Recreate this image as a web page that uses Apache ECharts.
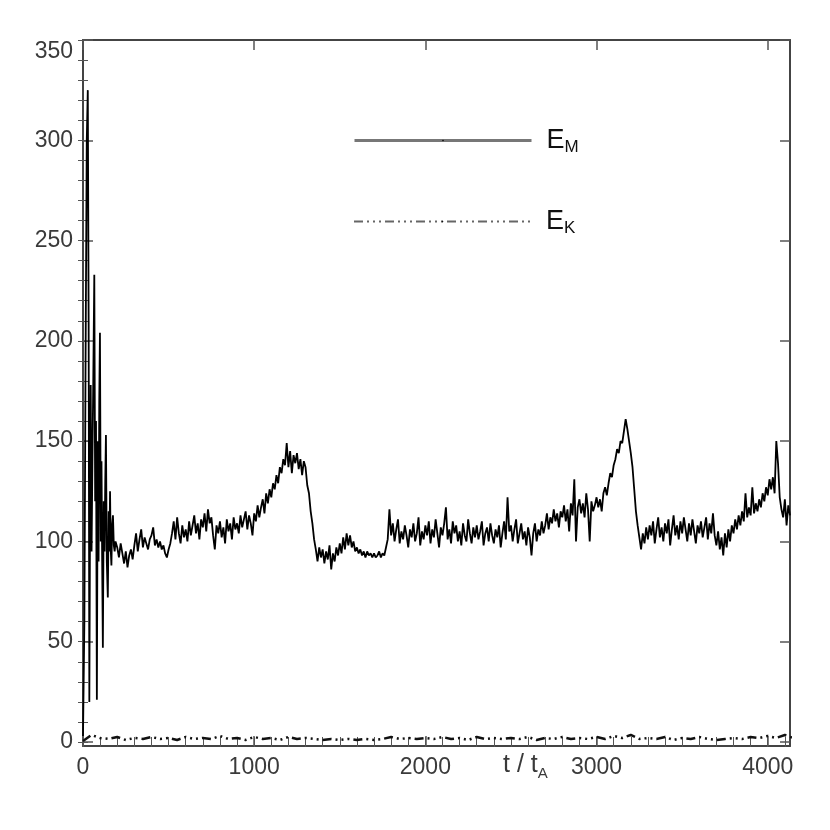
<!DOCTYPE html>
<html>
<head>
<meta charset="utf-8">
<title>E_M / E_K vs t</title>
<script src="https://cdn.jsdelivr.net/npm/echarts@6.0.0/dist/echarts.min.js"></script>
<style>
  html, body { margin: 0; padding: 0; background: #fff; }
  #chart { width: 830px; height: 830px; }
</style>
</head>
<body>
<div id="chart"></div>
<script>
// axis ticks
const xTicks = [0, 1000, 2000, 3000, 4000];
const yTicks = [0, 50, 100, 150, 200, 250, 300, 350];

// E_M, first burst (irregular sampling)
const emEarlyT = [0, 8, 15, 22, 28, 33, 37, 41, 45, 50, 55, 60, 66, 71, 76, 81, 86, 91, 95, 99,
  104, 108, 112, 116, 121, 126, 130, 134, 139, 145, 150, 154, 158, 162, 166, 170, 175, 180, 185, 190];
const emEarlyV = [3, 60, 190, 300, 325, 210, 20, 110, 178, 95, 140, 180, 233, 120, 160, 21, 150, 90, 170, 204,
  100, 140, 90, 47, 120, 95, 130, 153, 90, 72, 115, 95, 125, 96, 88, 108, 113, 98, 95, 100];

// E_M from t = 200, every 10
const emStart = 200;
const emStep = 10;
const emVals = [
  97, 92, 99, 94, 89, 95, 87, 93, 96, 91,
  98, 104, 95, 101, 106, 97, 102, 99, 96, 101,
  103, 107, 98, 101, 97, 100, 96, 98, 94, 92,
  96, 99, 104, 110, 101, 112, 104, 99, 108, 102,
  106, 100, 110, 103, 108, 113, 104, 109, 101, 111,
  107, 114, 105, 116, 109, 112, 103, 96, 108, 104,
  110, 102, 107, 99, 111, 105, 109, 101, 112, 106,
  109, 104, 113, 107, 111, 115, 106, 113, 109, 103,
  114, 110, 118, 112, 117, 121, 114, 124, 119, 126,
  122, 129, 126, 133, 129, 137, 134, 141, 138, 149,
  137, 145, 134, 143, 139, 144, 136, 141, 133, 140,
  137, 128, 124, 115, 109, 101, 96, 90, 97, 92,
  96, 89, 95, 91, 98, 86, 94, 90, 97, 93,
  99, 94, 102, 96, 104, 98, 103, 97, 100, 95,
  97, 94, 96, 93, 95, 92, 95, 93, 94, 92,
  94, 92, 93, 95, 92, 94, 93, 97, 101, 116,
  103, 109, 100, 106, 111, 99, 105, 101, 108, 103,
  97, 106, 102, 109, 100, 104, 112, 98, 105, 101,
  108, 103, 110, 99, 106, 102, 111, 104, 97, 107,
  103, 109, 117, 101, 106, 99, 110, 104, 108, 100,
  105, 98, 109, 103, 100, 111, 104, 99, 107, 102,
  108, 101, 105, 110, 98, 104, 107, 100, 109, 103,
  99, 106, 102, 108, 97, 104, 110, 101, 122, 105,
  108, 100, 106, 111, 99, 104, 109, 101, 105, 98,
  107, 102, 93, 104, 109, 100, 106, 103, 110, 104,
  108, 114, 106, 112, 109, 116, 110, 114, 107, 115,
  112, 118, 110, 116, 105, 119, 113, 131, 100, 117,
  121, 114, 119, 112, 124, 116, 100, 120, 115, 118,
  122, 117, 121, 115, 124, 127, 123, 129, 134, 132,
  138, 141, 146, 144, 150, 149, 155, 161, 156, 150,
  144, 137, 126, 115, 108, 102, 96, 104, 99, 107,
  101, 108, 103, 110, 99, 106, 112, 102, 107, 100,
  109, 104, 111, 98, 106, 113, 103, 108, 101, 110,
  104, 112, 106, 100, 109, 103, 111, 105, 99, 108,
  104, 110, 102, 107, 112, 101, 109, 104, 114, 103,
  98, 105, 96, 102, 93, 104, 97, 106, 100, 108,
  104, 111, 106, 113, 108, 115, 110, 124, 112, 117,
  113, 127, 114, 119, 115, 121, 117, 124, 120, 127,
  123, 131, 126, 132, 124, 150, 139, 122, 116, 112,
  121, 108, 118, 113
];

// E_K, every 50 from t = 0
const ekStep = 50;
const ekVals = [
  0.5, 3.5, 2, 1.5, 2.5, 1, 2, 1.5, 2.5, 1.5,
  2, 1, 2.5, 1.5, 2, 1.5, 3, 1.5, 2, 1,
  2.5, 1.5, 2, 1, 2.5, 1.5, 2, 1.5, 1, 1.5,
  1, 1.5, 1, 1.5, 1, 1.5, 2.5, 1.5, 2, 1.5,
  2, 1.5, 2.5, 1.5, 2, 1, 2.5, 1.5, 2, 1.5,
  2, 1.5, 2.5, 1, 2, 1.5, 2.5, 1.5, 2, 1.5,
  2.5, 1.5, 3, 2, 3.5, 1.5, 2, 1.5, 2.5, 1,
  2, 1.5, 2.5, 1.5, 1, 1.5, 2, 1.5, 2.5, 2,
  3, 2, 3.5, 2
];

const emData = emEarlyT.map((t, i) => [t, emEarlyV[i]])
  .concat(emVals.map((v, i) => [emStart + i * emStep, v]));
const ekData = ekVals.map((v, i) => [i * ekStep, v]);

// minor tick positions between the major ones
const xMinor = [];
for (let t = 0; t <= 4100; t += 100) xMinor.push(t);
const yMinor = [];
for (let v = 0; v <= 350; v += 10) yMinor.push(v);

const X_MAX = 4130;
const Y_MIN = -2;
const Y_MAX = 350;
const FONT = "Liberation Sans, Arial, sans-serif";
const boxLine = { show: true, onZero: false, lineStyle: { color: "#444", width: 2 } };
const labelStyle = { color: "#3a3a3a", fontSize: 23, fontFamily: FONT, formatter: (v) => String(v) };

function xAx(pos, major) {
  return {
    type: "value", position: pos, min: 0, max: X_MAX,
    axisLine: major ? boxLine : { show: false },
    axisTick: { show: true, inside: true, length: major ? 10 : 5, customValues: major ? xTicks : xMinor,
      lineStyle: { color: "#555", width: major ? 1.5 : 1 } },
    axisLabel: major && pos === "bottom"
      ? Object.assign({ show: true, margin: 10, customValues: xTicks }, labelStyle)
      : { show: false },
    splitLine: { show: false },
  };
}

function yAx(pos, major) {
  return {
    type: "value", position: pos, min: Y_MIN, max: Y_MAX,
    axisLine: major ? boxLine : { show: false },
    axisTick: { show: true, inside: true, length: major ? 10 : 5, customValues: major ? yTicks : yMinor,
      lineStyle: { color: "#555", width: major ? 1.5 : 1 } },
    axisLabel: major && pos === "left"
      ? Object.assign({ show: true, margin: 10, customValues: yTicks, verticalAlignMaxLabel: "top" }, labelStyle)
      : { show: false },
    splitLine: { show: false },
  };
}

const subRich = {
  e: { fontSize: 27, color: "#111", fontFamily: FONT, padding: [0, 0, 0, 10] },
  s: { fontSize: 17, color: "#111", fontFamily: FONT, padding: [14, 0, 0, 0] },
};
const subName = { E_M: "{e|E}{s|M}", E_K: "{e|E}{s|K}" };

const chart = echarts.init(document.getElementById("chart"));
chart.setOption({
  animation: false,
  backgroundColor: "#fff",
  grid: { left: 83, right: 40, top: 40, bottom: 84 },
  legend: [
    {
      data: [{ name: "E_M", lineStyle: { color: "#777", width: 3 } }],
      left: 348, top: 122, itemWidth: 177, itemHeight: 2,
      formatter: (n) => subName[n], textStyle: { rich: subRich },
    },
    {
      data: [{ name: "E_K", lineStyle: { color: "#666", width: 2, type: [9, 4, 2, 4, 2, 4, 2, 4] } }],
      left: 348, top: 203, itemWidth: 177, itemHeight: 2,
      formatter: (n) => subName[n], textStyle: { rich: subRich },
    },
  ],
  xAxis: [xAx("bottom", true), xAx("bottom", false), xAx("top", true), xAx("top", false)],
  yAxis: [yAx("left", true), yAx("left", false), yAx("right", true), yAx("right", false)],
  graphic: [
    {
      type: "text", left: 503, top: 753,
      style: {
        text: "{a|t / t}{s|A}",
        rich: {
          a: { fontSize: 25, fill: "#3a3a3a", fontFamily: FONT },
          s: { fontSize: 15, fill: "#3a3a3a", fontFamily: FONT, padding: [16, 0, 0, 0] },
        },
      },
    },
  ],
  series: [
    {
      name: "E_M", type: "line", data: emData, symbol: "none",
      lineStyle: { color: "#000", width: 1.8 }, itemStyle: { color: "#000" },
    },
    {
      name: "E_K", type: "line", data: ekData, symbol: "none",
      lineStyle: { color: "#111", width: 2.5, type: [9, 4, 2, 4, 2, 4, 2, 4] }, itemStyle: { color: "#111" },
    },
  ],
});
</script>
</body>
</html>
